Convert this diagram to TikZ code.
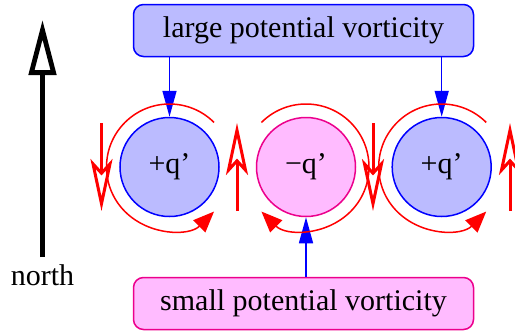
\documentclass[tikz,border=0pt]{standalone}
\usepackage{fontspec}
\setmainfont{Liberation Serif}
\usetikzlibrary{arrows.meta}
\definecolor{pvblue}{RGB}{187,187,255}
\definecolor{pvpink}{RGB}{255,187,255}
\newcommand{\pvfont}{\fontsize{30}{34}\selectfont}
\tikzset{
    anomaly/.style={circle, line width=1.5pt, minimum size=99pt,
                    inner sep=0pt, font=\pvfont},
    high/.style={anomaly, draw=blue, fill=pvblue},
    low/.style={anomaly, draw=magenta, fill=pvpink},
    pvbox/.style={draw, rounded corners=10pt, line width=1.5pt,
                  minimum width=340pt, minimum height=52pt, font=\pvfont},
    feed/.style={-{Triangle[length=26pt, width=14pt]}, blue, line width=1.5pt},
    swirl/.style={-{Triangle[length=21pt, width=17pt]}, red, line width=1.5pt},
    wind/.style={-{Stealth[open, length=52pt, width=22pt, inset=12pt]},
                 red, line width=3pt},
    northarrow/.style={-{Triangle[open, length=55pt, width=27pt]}, line width=4.8pt},
}

\begin{document}
\begin{tikzpicture}[x=1pt, y=1pt]
    \useasboundingbox (0,0) rectangle (515,-333);

    \node[pvbox, draw=blue, fill=pvblue] (large) at (303.5,-30.5) {large potential vorticity};
    \node[pvbox, draw=magenta, fill=pvpink] (small) at (303.5,-303.5) {small potential vorticity};

    \node[high] (plusA) at (169.5,-167) {+q’};
    \node[low] (minus) at (306,-167) {−q’};
    \node[high] (plusB) at (441.7,-167) {+q’};

    \draw[feed] (large.south -| plusA) -- (plusA.north);
    \draw[feed] (large.south -| plusB) -- (plusB.north);
    \draw[feed] (small.north -| minus) -- (minus.south);

    % circulation round each anomaly
    \draw[swirl] ([shift={(45:63)}]plusA.center) arc[start angle=45, end angle=315, radius=63];
    \draw[swirl] ([shift={(135:63)}]minus.center) arc[start angle=135, end angle=-135, radius=63];
    \draw[swirl] ([shift={(45:63)}]plusB.center) arc[start angle=45, end angle=315, radius=63];

    % winds between the anomalies
    \foreach \x/\d in {101.5/-1, 237/1, 373/-1, 510/1}
        \draw[wind] (\x,{-167-44*\d}) -- (\x,{-167+44*\d});

    \node[font=\pvfont, anchor=base] (north) at (42.5,-285) {north};
    \coordinate (northfoot) at (42.5,-257);
    \coordinate (northtip) at (42.5,-20);
    \draw[northarrow] (northfoot) -- (northtip);
\end{tikzpicture}
\end{document}
